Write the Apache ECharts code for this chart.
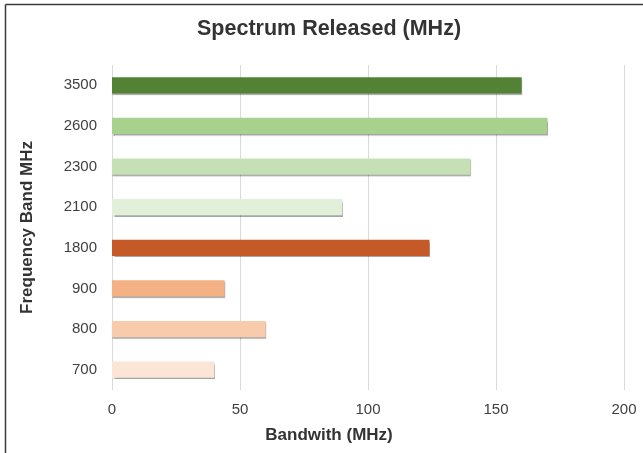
<!DOCTYPE html>
<html>
<head>
<meta charset="utf-8">
<script src="https://cdn.jsdelivr.net/npm/echarts@6/dist/echarts.min.js"></script>
<style>
  html, body { margin: 0; padding: 0; background: #fff; }
  #chart { width: 643px; height: 453px; }
</style>
</head>
<body>
<div id="chart"></div>
<script>
// Frequency bands (top to bottom) and released bandwidth in MHz
const bands = ['3500', '2600', '2300', '2100', '1800', '900', '800', '700'];
const bandwidth = [160, 170, 140, 90, 124, 44, 60, 40];
const barColors = ['#548235', '#a9d18e', '#c5e0b4', '#e2f0d9', '#c55a28', '#f4b183', '#f8cbad', '#fbe5d6'];
const xTicks = [0, 50, 100, 150, 200];

const chart = echarts.init(document.getElementById('chart'), null, { renderer: 'canvas' });

const font = 'Liberation Sans, Arial, Helvetica, sans-serif';

chart.setOption({
  animation: false,
  backgroundColor: '#ffffff',
  title: {
    text: 'Spectrum Released (MHz)',
    left: 192,
    top: 13,
    textStyle: { fontFamily: font, fontSize: 21.5, fontWeight: 'bold', color: '#333333' }
  },
  grid: { left: 112, right: 19, top: 65, bottom: 63, containLabel: false },
  xAxis: {
    type: 'value',
    min: xTicks[0],
    max: xTicks[xTicks.length - 1],
    interval: xTicks[1] - xTicks[0],
    name: 'Bandwith (MHz)',
    nameLocation: 'middle',
    nameGap: 37,
    nameTextStyle: { fontFamily: font, fontSize: 17, fontWeight: 'bold', color: '#333333', padding: [0, 78, 0, 0] },
    axisLine: { show: false },
    axisTick: { show: false },
    axisLabel: { fontFamily: font, fontSize: 15, color: '#404040', margin: 12 },
    splitLine: { show: true, lineStyle: { color: '#d9d9d9', width: 1 } }
  },
  yAxis: {
    type: 'category',
    data: bands,
    inverse: true,
    name: 'Frequency Band MHz',
    nameLocation: 'middle',
    nameGap: 76,
    nameRotate: 90,
    nameTextStyle: { fontFamily: font, fontSize: 17, fontWeight: 'bold', color: '#333333' },
    axisLine: { show: false },
    axisTick: { show: false },
    axisLabel: { fontFamily: font, fontSize: 15, color: '#404040', margin: 15 }
  },
  series: [{
    type: 'bar',
    data: bandwidth.map((v, i) => ({ value: v, itemStyle: { color: barColors[i] } })),
    barWidth: '40%',
    itemStyle: {
      shadowColor: 'rgba(0,0,0,0.35)',
      shadowBlur: 1,
      shadowOffsetX: 0.5,
      shadowOffsetY: 1.5
    }
  }],
  graphic: [
    { type: 'line', shape: { x1: 5.5, y1: 4.5, x2: 643, y2: 4.5 }, style: { stroke: '#3a3a3a', lineWidth: 1.5 } },
    { type: 'line', shape: { x1: 5.5, y1: 4.5, x2: 5.5, y2: 453 }, style: { stroke: '#3a3a3a', lineWidth: 1.5 } }
  ]
});
</script>
</body>
</html>
